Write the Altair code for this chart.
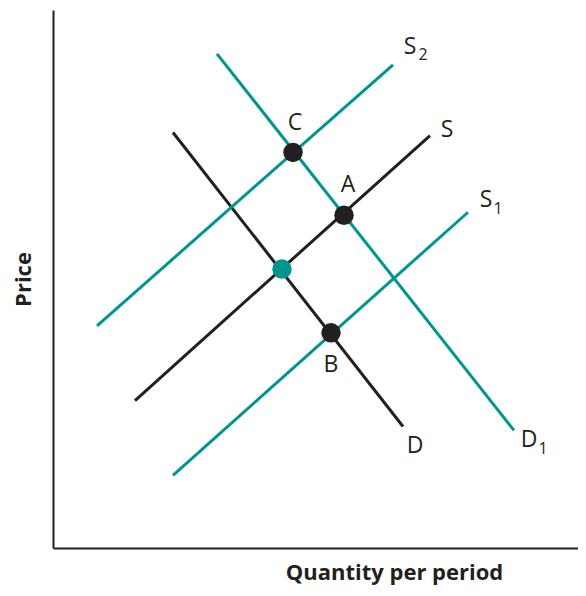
import altair as alt
import pandas as pd

BLACK = "#231f20"
TEAL = "#00968f"

# Curves: endpoints (x, y) in chart units (quantity, price)
curve_names = ["S", "D", "S2", "S1", "D1"]
curve_x1 = [82, 120, 44, 120, 164]
curve_y1 = [148, 417, 223, 73, 496]
curve_x2 = [377, 350, 340, 415, 461]
curve_y2 = [414, 122, 485, 337, 118]
curve_colors = [BLACK, BLACK, TEAL, TEAL, TEAL]

# Equilibrium points
point_names = ["C", "A", "E", "B"]
point_x = [240, 291, 229, 278]
point_y = [397, 334, 280, 216]
point_colors = [BLACK, BLACK, TEAL, BLACK]

# Labels
label_text = ["S", "S", "S", "D", "D", "C", "A", "B"]
label_x = [357, 394, 433, 362, 476, 242, 295, 278]
label_y = [503, 420, 349, 102, 108, 427, 364, 184]
sub_text = ["2", "1", "1"]
sub_x = [370, 445, 490]
sub_y = [495, 340, 99]

rows = []
for n, x1, y1, x2, y2, c in zip(curve_names, curve_x1, curve_y1, curve_x2, curve_y2, curve_colors):
    rows.append({"curve": n, "x": x1, "y": y1, "o": 0, "c": c})
    rows.append({"curve": n, "x": x2, "y": y2, "o": 1, "c": c})
lines_df = pd.DataFrame(rows)
points_df = pd.DataFrame({"name": point_names, "x": point_x, "y": point_y, "c": point_colors})
labels_df = pd.DataFrame({"t": label_text, "x": label_x, "y": label_y})
subs_df = pd.DataFrame({"t": sub_text, "x": sub_x, "y": sub_y})

xs = alt.Scale(domain=[0, 525], nice=False, zero=False)
ys = alt.Scale(domain=[0, 540], nice=False, zero=False)

x_axis = alt.Axis(ticks=False, labels=False, grid=False, domainColor=BLACK, domainWidth=2,
                  title="Quantity per period", titleFont="Open Sans", titleFontSize=22,
                  titleFontWeight="bold", titleColor=BLACK, titlePadding=14, titleX=341)
y_axis = alt.Axis(ticks=False, labels=False, grid=False, domainColor=BLACK, domainWidth=2,
                  title="Price", titleFont="Open Sans", titleFontSize=22,
                  titleFontWeight="bold", titleColor=BLACK, titlePadding=18)

lines = alt.Chart(lines_df).mark_line(strokeWidth=3).encode(
    x=alt.X("x:Q", scale=xs, axis=x_axis),
    y=alt.Y("y:Q", scale=ys, axis=y_axis),
    detail="curve:N",
    order="o:Q",
    color=alt.Color("c:N", scale=None),
)

points = alt.Chart(points_df).mark_point(filled=True, opacity=1, size=380, shape="circle").encode(
    x=alt.X("x:Q", scale=xs),
    y=alt.Y("y:Q", scale=ys),
    color=alt.Color("c:N", scale=None),
)

labels = alt.Chart(labels_df).mark_text(font="Open Sans", fontSize=23, color=BLACK,
                                         align="center", baseline="middle").encode(
    x=alt.X("x:Q", scale=xs), y=alt.Y("y:Q", scale=ys), text="t:N")

subs = alt.Chart(subs_df).mark_text(font="Open Sans", fontSize=16, color=BLACK,
                                     align="center", baseline="middle").encode(
    x=alt.X("x:Q", scale=xs), y=alt.Y("y:Q", scale=ys), text="t:N")

chart = alt.layer(lines, points, labels, subs).properties(
    width=525, height=538,
    autosize=alt.AutoSizeParams(type="none"),
    padding={"left": 45, "top": 2, "right": 0, "bottom": 37},
    background="white",
).configure_view(stroke=None)

chart.save("out.html", embed_options={"renderer": "svg", "actions": False})
